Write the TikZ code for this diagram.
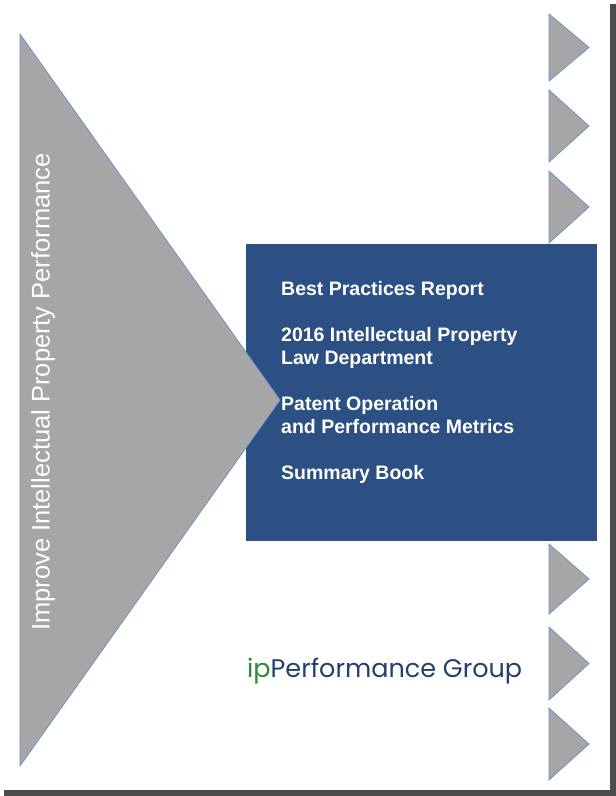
\documentclass[tikz,border=0pt]{standalone}
\usepackage{fontspec}
\setmainfont{Liberation Sans}
\newfontfamily\logofont{Poppins}
\definecolor{tri}{HTML}{A6A6A6}
\definecolor{triedge}{HTML}{6F93C8}
\definecolor{navy}{HTML}{2C5083}
\definecolor{logoblue}{HTML}{23406E}
\definecolor{logogreen}{HTML}{2E8B3A}
\begin{document}
\begin{tikzpicture}[x=1pt,y=-1pt,
  tristyle/.style={fill=tri,draw=triedge,line width=0.8pt},
  title/.style={text=white,font=\bfseries\fontsize{19.5}{23}\selectfont,anchor=north west,align=left,inner sep=0}]
\useasboundingbox (0,0) rectangle (616,796);
\fill[white] (0,0) rectangle (616,796);
\fill[black!70] (4,790) rectangle (616,796);
\fill[black!70] (610,4) rectangle (616,796);
\node[fill=navy,minimum width=351pt,minimum height=297pt,anchor=north west,inner sep=0] (box) at (246,244) {};
\draw[tristyle] (20,34) -- (280,400) -- (20,766) -- cycle;
\node[rotate=90,text=white,font=\fontsize{25.5}{28}\selectfont] (vt) at (43,392) {Improve Intellectual Property Performance};
\foreach \t/\b in {14/81,90/162,171/243,544/614,627/700,708/780}{
  \draw[tristyle] (549,\t) -- (589,{(\t+\b)/2}) -- (549,\b) -- cycle;
}
\node[title] (t1) at (281,281) {Best Practices Report};
\node[title] (t2) at (281,327) {2016 Intellectual Property\\Law Department};
\node[title] (t3) at (281,396) {Patent Operation\\and Performance Metrics};
\node[title] (t4) at (281,465) {Summary Book};
\node[anchor=west,font=\logofont\fontsize{25.5}{28}\selectfont,inner sep=0] (logo) at (247,671) {\textcolor{logogreen}{ip}\textcolor{logoblue}{Performance Group}};
\end{tikzpicture}
\end{document}
